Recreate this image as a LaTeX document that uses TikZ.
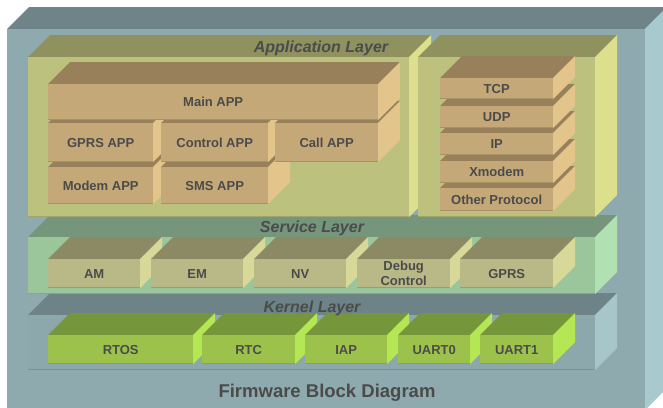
\documentclass[tikz,border=0pt]{standalone}
\usepackage{fontspec}
\setmainfont{Liberation Sans}
\usepackage{tikz}

\definecolor{outerfront}{HTML}{8FAAAE}
\definecolor{outertop}{HTML}{6E8488}
\definecolor{outerside}{HTML}{A8C9CD}
\definecolor{appfront}{HTML}{BDC17E}
\definecolor{apptop}{HTML}{8F925E}
\definecolor{appside}{HTML}{DCE08D}
\definecolor{svcfront}{HTML}{9BC59B}
\definecolor{svctop}{HTML}{75967A}
\definecolor{svcside}{HTML}{B1E0B3}
\definecolor{kerfront}{HTML}{8DA8AC}
\definecolor{kertop}{HTML}{6D8387}
\definecolor{kerside}{HTML}{A6C6CA}
\definecolor{tanfront}{HTML}{C4A877}
\definecolor{tantop}{HTML}{98805A}
\definecolor{tanside}{HTML}{E3C48B}
\definecolor{khakifront}{HTML}{B8B986}
\definecolor{khakitop}{HTML}{8B8A65}
\definecolor{khakiside}{HTML}{D8D998}
\definecolor{limefront}{HTML}{9DC24B}
\definecolor{limetop}{HTML}{75963A}
\definecolor{limeside}{HTML}{B5E654}
\definecolor{ink}{HTML}{4B4B4B}

\newcommand{\slabdepth}{22}
% name, x, y, width, height, colour, text
\newcommand{\slab}[7]{%
  \fill[#6top] (#2,#3) -- ++(\slabdepth,-\slabdepth) -- ++(#4,0) -- ++(-\slabdepth,\slabdepth) -- cycle;
  \fill[#6side] (#2+#4,#3) -- ++(\slabdepth,-\slabdepth) -- ++(0,#5) -- ++(-\slabdepth,\slabdepth) -- cycle;
  \node[face, fill=#6front, minimum width=#4pt, minimum height=#5pt] (#1) at (#2,#3) {#7};
  \draw[#6top!60!#6front, line width=1.5pt] ([yshift=0.75pt]#1.south west) -- ([yshift=0.75pt]#1.south east);
}

\begin{document}
\begin{tikzpicture}[x=1pt,y=-1pt]
		\tikzset{face/.style = {anchor=north west, inner sep=0pt, text=ink, align=center,
				font=\bfseries\fontsize{13}{15}\selectfont}}
		\tikzset{layer/.style = {text=ink, font=\bfseries\itshape\fontsize{16}{18}\selectfont}}
		\tikzset{title/.style = {text=ink, font=\bfseries\fontsize{18.5}{21}\selectfont}}
		\useasboundingbox (0,0) rectangle (663,407);
		\clip (0,0) rectangle (663,407);
		% board
		\slab{board}{7}{29}{638}{381}{outer}{}
		% kernel layer
		\slab{kernel}{28}{315}{567}{55}{ker}{}
		\slab{rtos}{48}{335}{145}{29}{lime}{RTOS}
		\slab{rtc}{202}{335}{93}{29}{lime}{RTC}
		\slab{iap}{305}{335}{82}{29}{lime}{IAP}
		\slab{uart0}{398}{335}{72}{29}{lime}{UART0}
		\slab{uart1}{480}{335}{73}{29}{lime}{UART1}
		% service layer
		\slab{service}{28}{237}{567}{57}{svc}{}
		\slab{am}{48}{259}{92}{29}{khaki}{AM}
		\slab{em}{151}{259}{92}{29}{khaki}{EM}
		\slab{nv}{254}{259}{92}{29}{khaki}{NV}
		\slab{debug}{357}{259}{93}{29}{khaki}{Debug\\Control}
		\slab{gprs}{460}{259}{93}{29}{khaki}{GPRS}
		% application layer
		\slab{app}{28}{57}{381}{160}{app}{}
		\slab{proto}{418}{57}{177}{160}{app}{}
		\slab{modem}{48}{167}{105}{37}{tan}{Modem APP}
		\slab{sms}{161}{167}{107}{37}{tan}{SMS APP}
		\slab{gprsapp}{48}{123}{105}{39}{tan}{GPRS APP}
		\slab{control}{161}{123}{107}{39}{tan}{Control APP}
		\slab{call}{275}{123}{103}{39}{tan}{Call APP}
		\slab{main}{48}{84}{330}{36}{tan}{Main APP}
		\slab{other}{440}{188}{113}{23}{tan}{Other Protocol}
		\slab{xmodem}{440}{161}{113}{22}{tan}{Xmodem}
		\slab{ip}{440}{133}{113}{22}{tan}{IP}
		\slab{udp}{440}{106}{113}{22}{tan}{UDP}
		\slab{tcp}{440}{78}{113}{21}{tan}{TCP}
		% labels
		\node[layer] (applabel) at (321,48) {Application Layer};
		\node[layer] (svclabel) at (312,228) {Service Layer};
		\node[layer] (kerlabel) at (312,308) {Kernel Layer};
		\node[title] (caption) at (327,393) {Firmware Block Diagram};
\end{tikzpicture}
\end{document}
